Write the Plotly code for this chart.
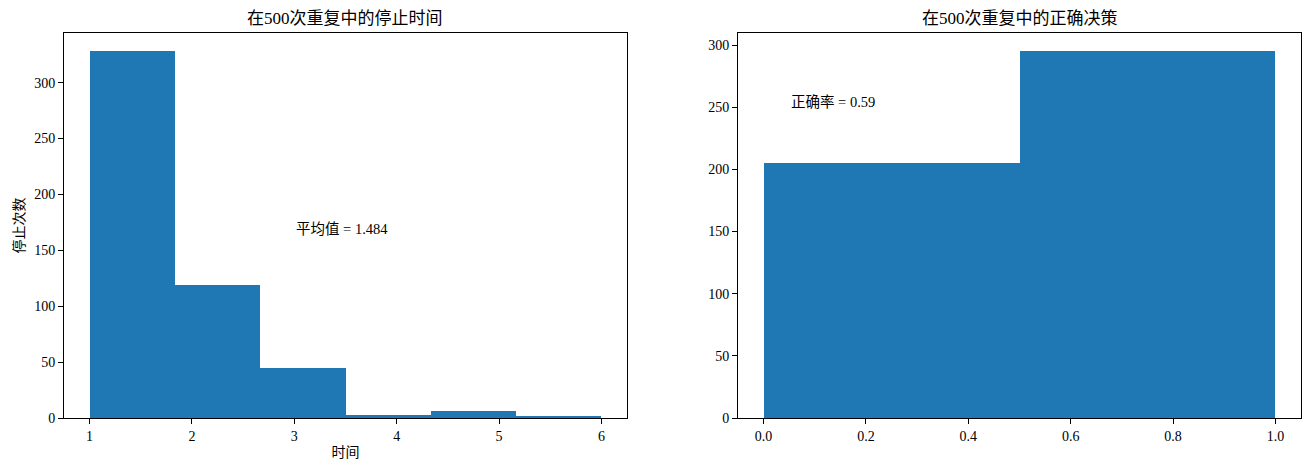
import numpy as np
import plotly.graph_objects as go

# Histogramm-Daten: Stoppzeiten (6 Bins von 1 bis 6)
stop_edges = np.linspace(1, 6, 7)
stop_counts = [328, 119, 45, 3, 6, 2]

# Histogramm-Daten: korrekte Entscheidungen (2 Bins von 0 bis 1)
dec_edges = np.linspace(0, 1, 3)
dec_counts = [205, 295]

mean_text = "平均值 = 1.484"
acc_text = "正确率 = 0.59"

# Die Seite hat 8px Body-Rand, daher ist die Figur etwas kleiner und alles um 8px verschoben
OFF = 8
W, H = 1313 - 2 * OFF, 471 - 2 * OFF
blue = "#1f77b4"
font_family = "Liberation Serif, Noto Sans CJK SC, serif"

# Achsenpositionen in Pixel (Fensterkoordinaten)
left_px = (64 - OFF, 627 - OFF)
right_px = (738 - OFF, 1301 - OFF)
top_px, bottom_px = 33 - OFF, 418 - OFF
xd1 = [left_px[0] / W, left_px[1] / W]
xd2 = [right_px[0] / W, right_px[1] / W]
yd = [(H - bottom_px) / H, (H - top_px) / H]

fig = go.Figure()

fig.add_trace(go.Bar(
    x=(stop_edges[:-1] + stop_edges[1:]) / 2,
    y=stop_counts,
    width=np.diff(stop_edges),
    marker=dict(color=blue, line=dict(width=0)),
    xaxis="x", yaxis="y", showlegend=False,
))
fig.add_trace(go.Bar(
    x=(dec_edges[:-1] + dec_edges[1:]) / 2,
    y=dec_counts,
    width=np.diff(dec_edges),
    marker=dict(color=blue, line=dict(width=0)),
    xaxis="x2", yaxis="y2", showlegend=False,
))

axis_style = dict(
    showline=True, mirror=True, linecolor="black", linewidth=1,
    ticks="outside", ticklen=5, tickwidth=1, tickcolor="black",
    showgrid=False, zeroline=False, automargin=False,
    tickfont=dict(size=14, color="black", family=font_family),
)

span1 = stop_edges[-1] - stop_edges[0]
span2 = dec_edges[-1] - dec_edges[0]

fig.update_layout(
    width=W, height=H,
    margin=dict(l=0, r=0, t=0, b=0),
    plot_bgcolor="white", paper_bgcolor="white",
    font=dict(family=font_family, color="black"),
    bargap=0,
    xaxis=dict(domain=xd1, anchor="y",
               range=[stop_edges[0] - 0.05 * span1, stop_edges[-1] + 0.05 * span1],
               tickvals=[1, 2, 3, 4, 5, 6],
               title=dict(text="时间", font=dict(size=14), standoff=4),
               **axis_style),
    yaxis=dict(domain=yd, anchor="x",
               range=[0, max(stop_counts) * 1.05],
               tickvals=[0, 50, 100, 150, 200, 250, 300],
               title=dict(text="停止次数", font=dict(size=14), standoff=6),
               **axis_style),
    xaxis2=dict(domain=xd2, anchor="y2",
                range=[dec_edges[0] - 0.05 * span2, dec_edges[-1] + 0.05 * span2],
                tickvals=[0, 0.2, 0.4, 0.6, 0.8, 1.0],
                tickformat=".1f",
                **axis_style),
    yaxis2=dict(domain=yd, anchor="x2",
                range=[0, max(dec_counts) * 1.05],
                tickvals=[0, 50, 100, 150, 200, 250, 300],
                **axis_style),
)

# Titel
for dom, txt in [(xd1, "在500次重复中的停止时间"), (xd2, "在500次重复中的正确决策")]:
    fig.add_annotation(
        x=(dom[0] + dom[1]) / 2, y=yd[1], xref="paper", yref="paper",
        text=txt, showarrow=False, xanchor="center", yanchor="bottom",
        yshift=3, font=dict(size=17, color="black"),
    )

# Textanmerkungen in Datenkoordinaten
fig.add_annotation(x=3, y=165, xref="x", yref="y", text=mean_text,
                   showarrow=False, xanchor="left", yanchor="bottom", yshift=-5,
                   font=dict(size=14.5, color="black"))
fig.add_annotation(x=0.05, y=250, xref="x2", yref="y2", text=acc_text,
                   showarrow=False, xanchor="left", yanchor="bottom", yshift=-5,
                   font=dict(size=14.5, color="black"))

fig.write_html("out.html")
